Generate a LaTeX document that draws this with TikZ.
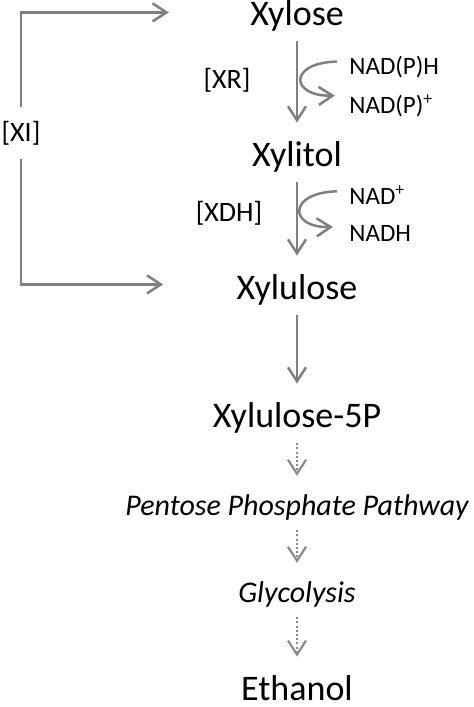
\documentclass[tikz,border=0pt]{standalone}
\usepackage{fontspec}
\setmainfont{Carlito}
\usetikzlibrary{arrows.meta, positioning}
\definecolor{arrgray}{RGB}{128,128,128}
\definecolor{dotgray}{RGB}{138,138,138}

\begin{document}
\begin{tikzpicture}[x=0.5pt, y=-0.5pt,
    metab/.style ={anchor=base, inner sep=0pt, font=\fontsize{18}{21}\selectfont},
    pathw/.style ={metab, font=\fontsize{15}{18}\selectfont\itshape},
    enz/.style   ={inner sep=0pt, font=\fontsize{14}{16}\selectfont},
    cofac/.style ={anchor=base west, inner sep=6pt, font=\fontsize{12.5}{15}\selectfont},
    tip/.style   ={-{Straight Barb[length=7pt, width=9pt]}},
    arr/.style   ={tip, draw=arrgray, line width=1.25pt},
    steparr/.style={arr, shorten <=5pt, shorten >=9pt},
    dotarr/.style={-{Straight Barb[length=7pt, width=9pt, line width=1.1pt]},
                   draw=dotgray, line width=1pt, dash pattern=on 1pt off 1.1pt,
                   shorten <=5pt, shorten >=9pt}
]
\useasboundingbox (0,0) rectangle (474,707);

%% ── Metabolites (main column) ───────────────────────────────────
\node[metab] (xylose)   at (297,25)  {Xylose};
\node[metab] (xylitol)  at (297,166) {Xylitol};
\node[metab] (xylulose) at (297,299) {Xylulose};
\node[metab] (x5p)      at (297,427) {Xylulose-5P};
\node[pathw] (ppp)      at (297,515) {Pentose Phosphate Pathway};
\node[pathw] (glyco)    at (297,602) {Glycolysis};
\node[metab] (ethanol)  at (297,700) {Ethanol};

%% ── Enzymes ─────────────────────────────────────────────────────
\node[enz] (xr)  at (227,80)  {[XR]};
\node[enz] (xdh) at (229,213) {[XDH]};
\node[enz, inner ysep=7pt] (xi) at (21,133) {[XI]};

%% ── Cofactors ───────────────────────────────────────────────────
\node[cofac] (nadph)  at (337,74)  {NAD(P)H};
\node[cofac] (nadpp)  at (337,113) {NAD(P)\textsuperscript{+}};
\node[cofac] (nadp)   at (337,204) {NAD\textsuperscript{+}};
\node[cofac] (nadh)   at (337,241) {NADH};

%% ── Reaction steps ──────────────────────────────────────────────
\draw[steparr] (xylose)   -- (xylitol);
\draw[steparr] (xylitol)  -- (xylulose);
\draw[steparr] (xylulose) -- (x5p);
\draw[dotarr]  (x5p)      -- (ppp);
\draw[dotarr]  (ppp)      -- (glyco);
\draw[dotarr]  (glyco)    -- (ethanol);

%% ── Cofactor turnover ───────────────────────────────────────────
\draw[arr] ([yshift=2.5pt]nadph.west)
    .. controls +(-49,1) and +(-45,1) .. ([xshift=-1pt,yshift=5pt]nadpp.west);
\draw[arr] ([yshift=1.75pt]nadp.west)
    .. controls +(-49,1) and +(-45,1) .. ([xshift=-2pt,yshift=3pt]nadh.west);

%% ── Isomerase bypass ────────────────────────────────────────────
\draw[arr] (xi.north) |- ([xshift=-40.5pt, yshift=1.5pt]xylose.west);
\draw[arr] (xi.south) |- ([xshift=-36.5pt, yshift=2.5pt]xylulose.west);

\end{tikzpicture}
\end{document}
